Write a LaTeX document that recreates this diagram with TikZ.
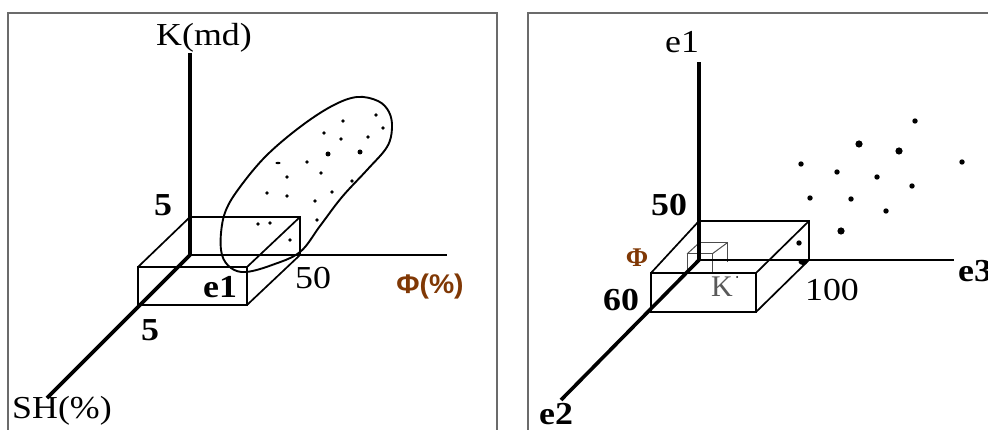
\documentclass[tikz,border=0pt]{standalone}
\usepackage{fontspec}
\setmainfont{Liberation Serif}
\newfontfamily\wideserif[FakeStretch=1.12]{Liberation Serif}
\newfontfamily\sansbf[FakeStretch=1.05]{Liberation Sans}
\definecolor{framegray}{gray}{0.42}
\definecolor{phicol}{rgb}{0.5,0.22,0.02}
\definecolor{kgray}{gray}{0.35}
\tikzset{
  framel/.style={draw=framegray, line width=2pt},
  axisthick/.style={draw=black, line width=3.6pt},
  axismid/.style={draw=black, line width=2.6pt},
  boxthick/.style={draw=black, line width=2.6pt},
  boxthin/.style={draw=black, line width=1.7pt},
  cubethin/.style={draw=black!70, line width=1pt},
  blob/.style={draw=none, fill=black},
  lbl/.style={inner sep=0pt, font=\wideserif\fontsize{32}{32}\selectfont},
  lblb/.style={inner sep=0pt, font=\wideserif\bfseries\fontsize{32}{32}\selectfont},
  lblphi/.style={inner sep=0pt, text=phicol, font=\sansbf\bfseries\fontsize{27}{27}\selectfont},
}
\begin{document}
\begin{tikzpicture}[x=1pt,y=-1pt]
\useasboundingbox (0,0) rectangle (988,430);
% ---------- frames ----------
\draw[framel] (8,432) -- (8,13) -- (497,13) -- (497,432);
\draw[framel] (528,432) -- (528,13) -- (990,13);

% ================= LEFT PANEL =================
\coordinate (O1) at (190,255);
\coordinate (K1) at (190,53);
\coordinate (P1) at (447,255);
\coordinate (S1) at (47,398);
\coordinate (B1tl) at (190,217);
\coordinate (B1tr) at (300,217);
\coordinate (B1br) at (300,255);
\coordinate (F1tl) at (138,267);
\coordinate (F1tr) at (247,267);
\coordinate (F1br) at (247,305);
\coordinate (F1bl) at (138,305);

% ellipse (cloud of points)
\draw[line width=1.9pt] plot[smooth cycle, tension=0.6] coordinates {
 (357,97) (378,101) (389,112) (392,128) (387,147) (367,170) (342,197)
 (320,226) (300,252) (272,265) (246,272) (231,268) (222,255) (221,233)
 (226,210) (240,187) (266,156) (300,127) (332,106)};
\foreach \p in {(376,115),(343,121),(383,128),(324,133),(341,139),(368,137),
  (307,162),(321,173),(287,177),(352,181),(267,193),(287,196),(332,192),
  (315,201),(258,224),(270,223),(290,240),(317,220)}
  \fill[blob] \p circle (1.9);
\fill[blob] (328,154) circle (2.5);
\fill[blob] (360,152) circle (2.5);
\fill[blob] (278,163) ellipse (2.6 and 1.2);

% box
\draw[boxthick] (B1tl) -- (B1tr) -- (B1br);
\draw[boxthin] (F1tl) rectangle (F1br);
\draw[boxthin] (B1tl) -- (F1tl);
\draw[boxthin] (B1tr) -- (F1tr);
\draw[boxthin] (B1br) -- (F1br);

% axes
\draw[axismid] (O1) -- (P1);
\draw[axisthick] (O1) -- (K1);
\draw[axisthick] (O1) -- (S1);

% labels
\node[lbl] (kmd) at (204,38) {K(md)};
\node[lbl, anchor=west] (sh) at (12,411) {SH(\%)};
\node[lblb] (five1) at (163,205) {5};
\node[lblb] (five2) at (150,330) {5};
\node[lblb] (e1l) at (220,287) {e1};
\node[lbl] (fifty1) at (313,278) {50};
\node[lblphi] (phil) at (430,287) {Φ(\%)};

% ================= RIGHT PANEL =================
\coordinate (O2) at (699,260);
\coordinate (E1) at (699,62);
\coordinate (E3) at (954,260);
\coordinate (E2) at (561,400);
\coordinate (B2tl) at (699,221);
\coordinate (B2tr) at (809,221);
\coordinate (B2br) at (809,260);
\coordinate (F2tl) at (651,273);
\coordinate (F2tr) at (756,273);
\coordinate (F2br) at (756,312);
\coordinate (F2bl) at (651,312);

% small cube
\coordinate (c1) at (699,243);
\coordinate (c2) at (727,243);
\coordinate (c3) at (727,262);
\coordinate (c4) at (687,254);
\coordinate (c5) at (712,254);
\coordinate (c6) at (712,272);
\coordinate (c7) at (687,270);
\draw[cubethin] (c1) -- (c2) -- (c3);
\draw[cubethin] (c4) -- (c5) -- (c6);
\draw[cubethin] (c4) -- (c7);
\draw[cubethin] (c4) -- (c1);
\draw[cubethin] (c5) -- (c2);

% big box
\draw[boxthick] (B2tl) -- (B2tr) -- (B2br);
\draw[boxthin] (F2tl) rectangle (F2br);
\draw[boxthin] (B2tl) -- (F2tl);
\draw[boxthin] (B2tr) -- (F2tr);
\draw[boxthin] (B2br) -- (F2br);

% axes
\draw[axismid] (O2) -- (E3);
\draw[axisthick] (O2) -- (E1);
\draw[axisthick] (O2) -- (E2);

% points
\foreach \p in {(915,121),(962,162),(801,164),(837,172),(877,177),(912,186),
  (810,198),(851,199),(886,211),(799,243)}
  \fill[blob] \p circle (2.7);
\foreach \p in {(859,144),(899,151),(841,231)}
  \fill[blob] \p circle (3.6);
\fill[blob] (803,262) ellipse (4.5 and 3);
\fill[blob] (737,277) circle (1);

% labels
\node[lbl] (e1r) at (682,42) {e1};
\node[lblb] (fifty2) at (669,205) {50};
\node[lblb] (sixty) at (621,300) {60};
\node[lbl] (hundred) at (832,290) {100};
\node[lblb, anchor=west] (e3r) at (958,271) {e3};
\node[lblb] (e2r) at (556,414) {e2};
\node[inner sep=0pt, text=phicol, font=\bfseries\fontsize{27}{27}\selectfont] (phir) at (637,258) {Φ};
\node[inner sep=0pt, text=kgray, font=\fontsize{30}{30}\selectfont] (kr) at (722,287) {K};
\end{tikzpicture}
\end{document}
